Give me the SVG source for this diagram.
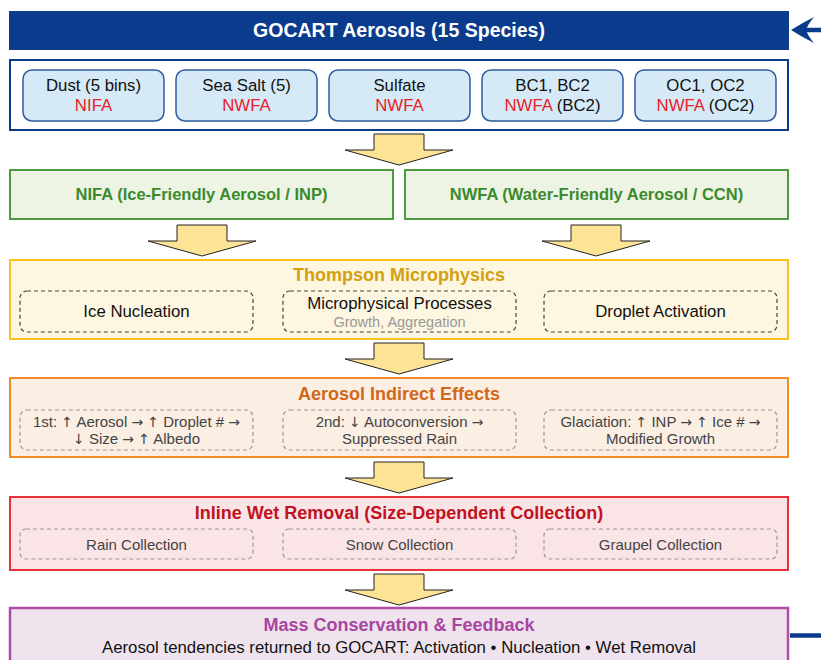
<svg xmlns="http://www.w3.org/2000/svg" width="821" height="660" viewBox="0 0 821 660">
  <style>
    text { font-family: "Liberation Sans", Arial, sans-serif; text-anchor: middle; }
    .species { fill: #d5eaf6; stroke: #2e5c9e; stroke-width: 1.5; }
    .sp-name { font-size: 16.8px; fill: #111; }
    .sp-tag { font-size: 16.8px; fill: #e8202a; }
    .sp-sub { fill: #111; }
    .title { font-size: 18px; font-weight: bold; }
    .sub-dark { fill: none; stroke: #444; stroke-width: 1.2; stroke-dasharray: 4 3; }
    .sub-light { fill: none; stroke: #999; stroke-width: 1.2; stroke-dasharray: 4 3; }
    .item { font-size: 16.8px; fill: #111; }
    .item-s { font-size: 15px; fill: #444; }
    .ar { font-family: "DejaVu Sans", sans-serif; font-size: 14px; }
    .flow { fill: #fde396; stroke: #222; stroke-width: 1; }
    .feedback { fill: none; stroke: #0b3b8c; stroke-width: 4.5; }
  </style>
  <defs>
    <!-- block arrow, tip at origin pointing down -->
    <path id="down" d="M-25,-31 H25 V-15 H54 L0,0 L-54,-15 H-25 Z"/>
  </defs>

  <!-- source -->
  <g id="gocart">
    <rect x="9" y="11" width="780" height="39" fill="#0b3b8c"/>
    <text x="399" y="37" font-size="19.5" font-weight="bold" fill="#fff">GOCART Aerosols (15 Species)</text>
  </g>

  <g id="species">
    <rect x="10" y="60" width="778" height="70" fill="#fff" stroke="#0b3b8c" stroke-width="2"/>
    <g id="dust">
      <rect class="species" x="23" y="70" width="141" height="51" rx="9"/>
      <text class="sp-name" x="93.5" y="91">Dust (5 bins)</text>
      <text class="sp-tag" x="93.5" y="111">NIFA</text>
    </g>
    <g id="seasalt">
      <rect class="species" x="176" y="70" width="141" height="51" rx="9"/>
      <text class="sp-name" x="246.5" y="91">Sea Salt (5)</text>
      <text class="sp-tag" x="246.5" y="111">NWFA</text>
    </g>
    <g id="sulfate">
      <rect class="species" x="329" y="70" width="141" height="51" rx="9"/>
      <text class="sp-name" x="399.5" y="91">Sulfate</text>
      <text class="sp-tag" x="399.5" y="111">NWFA</text>
    </g>
    <g id="bc">
      <rect class="species" x="482" y="70" width="141" height="51" rx="9"/>
      <text class="sp-name" x="552.5" y="91">BC1, BC2</text>
      <text class="sp-tag" x="552.5" y="111">NWFA <tspan class="sp-sub">(BC2)</tspan></text>
    </g>
    <g id="oc">
      <rect class="species" x="635" y="70" width="141" height="51" rx="9"/>
      <text class="sp-name" x="705.5" y="91">OC1, OC2</text>
      <text class="sp-tag" x="705.5" y="111">NWFA <tspan class="sp-sub">(OC2)</tspan></text>
    </g>
  </g>

  <!-- aerosol categories -->
  <g id="nifa">
    <rect x="10" y="170" width="383" height="49" fill="#edf4e4" stroke="#4e9a43" stroke-width="2"/>
    <text x="201.5" y="200" font-size="16.5" font-weight="bold" fill="#3b8a2e">NIFA (Ice-Friendly Aerosol / INP)</text>
  </g>
  <g id="nwfa">
    <rect x="405" y="170" width="383" height="49" fill="#edf4e4" stroke="#4e9a43" stroke-width="2"/>
    <text x="596.5" y="200" font-size="16.5" font-weight="bold" fill="#3b8a2e">NWFA (Water-Friendly Aerosol / CCN)</text>
  </g>

  <!-- microphysics -->
  <g id="thompson">
    <rect x="10" y="260" width="778" height="79" fill="#fdf6e0" stroke="#f8c21c" stroke-width="2"/>
    <text class="title" x="399" y="281" fill="#d3a00f">Thompson Microphysics</text>
    <rect class="sub-dark" x="20" y="291" width="233" height="41" rx="7"/>
    <text class="item" x="136.5" y="317">Ice Nucleation</text>
    <rect class="sub-dark" x="283" y="291" width="233" height="41" rx="7"/>
    <text class="item" x="399.5" y="309">Microphysical Processes</text>
    <text x="399.5" y="327" font-size="14.5" fill="#999">Growth, Aggregation</text>
    <rect class="sub-dark" x="544" y="291" width="233" height="41" rx="7"/>
    <text class="item" x="660.5" y="317">Droplet Activation</text>
  </g>

  <g id="indirect">
    <rect x="10" y="378" width="778" height="79" fill="#fbeee3" stroke="#f28c28" stroke-width="2"/>
    <text class="title" x="399" y="400" fill="#d0681a">Aerosol Indirect Effects</text>
    <rect class="sub-light" x="20" y="410" width="233" height="40" rx="7"/>
    <text class="item-s" x="136.5" y="427">1st: <tspan class="ar">↑</tspan> Aerosol <tspan class="ar">→</tspan> <tspan class="ar">↑</tspan> Droplet # <tspan class="ar">→</tspan></text>
    <text class="item-s" x="136.5" y="443.5"><tspan class="ar">↓</tspan> Size <tspan class="ar">→</tspan> <tspan class="ar">↑</tspan> Albedo</text>
    <rect class="sub-light" x="283" y="410" width="233" height="40" rx="7"/>
    <text class="item-s" x="399.5" y="427">2nd: <tspan class="ar">↓</tspan> Autoconversion <tspan class="ar">→</tspan></text>
    <text class="item-s" x="399.5" y="443.5">Suppressed Rain</text>
    <rect class="sub-light" x="544" y="410" width="233" height="40" rx="7"/>
    <text class="item-s" x="660.5" y="427">Glaciation: <tspan class="ar">↑</tspan> INP <tspan class="ar">→</tspan> <tspan class="ar">↑</tspan> Ice # <tspan class="ar">→</tspan></text>
    <text class="item-s" x="660.5" y="443.5">Modified Growth</text>
  </g>

  <g id="wetremoval">
    <rect x="10" y="497" width="778" height="73" fill="#fae4e5" stroke="#e8303a" stroke-width="2"/>
    <text class="title" x="399" y="519" fill="#c0121f">Inline Wet Removal (Size-Dependent Collection)</text>
    <rect class="sub-light" x="20" y="529" width="233" height="30" rx="6"/>
    <text class="item-s" x="136.5" y="550">Rain Collection</text>
    <rect class="sub-light" x="283" y="529" width="233" height="30" rx="6"/>
    <text class="item-s" x="399.5" y="550">Snow Collection</text>
    <rect class="sub-light" x="544" y="529" width="233" height="30" rx="6"/>
    <text class="item-s" x="660.5" y="550">Graupel Collection</text>
  </g>

  <g id="feedback">
    <rect x="10" y="608" width="778" height="70" fill="#efe3ee" stroke="#b04ba6" stroke-width="2.5"/>
    <text class="title" x="399" y="631" fill="#a845a0">Mass Conservation &amp; Feedback</text>
    <text x="399" y="653" font-size="16.8" fill="#111">Aerosol tendencies returned to GOCART: Activation • Nucleation • Wet Removal</text>
  </g>

  <!-- connectors -->
  <g id="connectors">
    <use href="#down" class="flow" x="399" y="165"/>
    <use href="#down" class="flow" x="202" y="256"/>
    <use href="#down" class="flow" x="596" y="256"/>
    <use href="#down" class="flow" x="399" y="374"/>
    <use href="#down" class="flow" x="399" y="493"/>
    <use href="#down" class="flow" x="399" y="605"/>
    <!-- return path runs off the right edge and back to the source bar -->
    <path class="feedback" d="M790,635.5 H850 V30 H806"/>
    <path d="M791,30 Q802,23 814,17 Q808,24 806,30 Q808,36 814,43 Q802,37 791,30 Z" fill="#0b3b8c"/>
  </g>
</svg>
